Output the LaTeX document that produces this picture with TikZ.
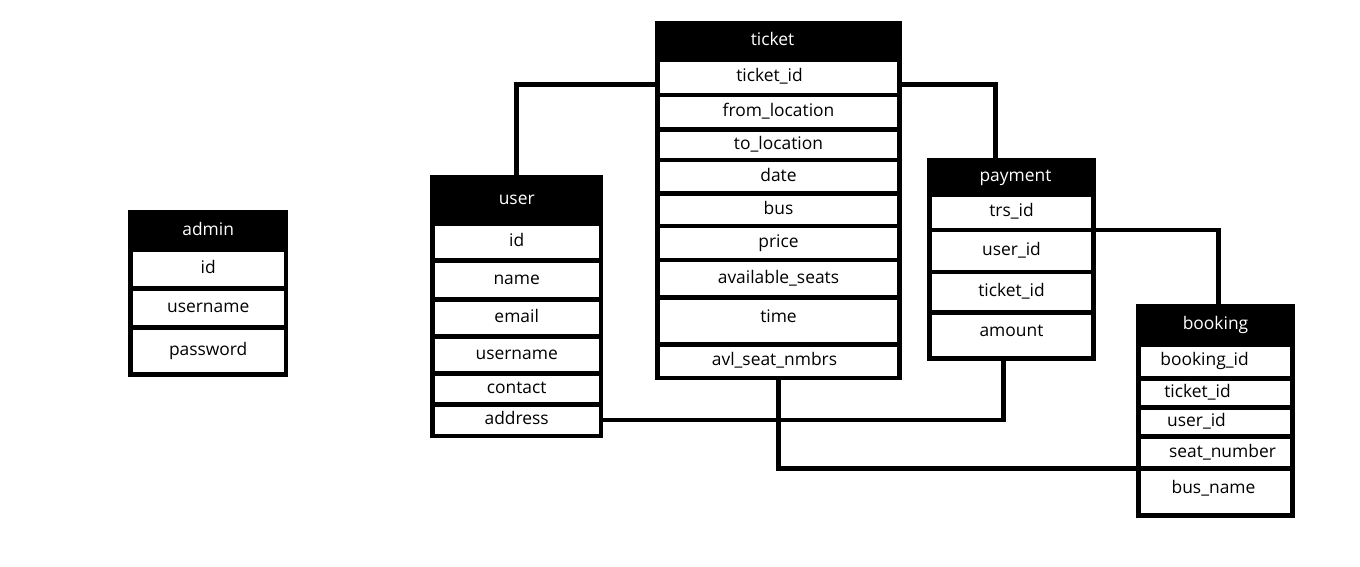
\documentclass[tikz,border=0pt]{standalone}
\usepackage{fontspec}
\setmainfont{Open Sans}
\usetikzlibrary{positioning}

% moves a cell text sideways without changing the cell
\newcommand{\nudge}[2]{\kern#1\makebox[0pt]{#2}\kern-#1}

\begin{document}
\begin{tikzpicture}[
    x=1pt, y=-1pt,
    node distance=0pt,
    font=\fontsize{17.4}{20}\selectfont,
    cell/.style={
        rectangle,
        draw=black,
        line width=4.6pt,
        outer sep=0pt,
        inner sep=0pt,
        minimum width=#1,
        text height=12pt,
        text depth=3pt
    },
    head/.style={cell=#1, fill=black, text=white},
    field/.style={cell=#1, fill=white},
    raised/.style={text depth=9pt},
    link/.style={draw=black, line width=4.6pt}
]

\path[use as bounding box, fill=white] (0,0) rectangle (1360,567);

% admin table
\node[head=155.7pt, minimum height=37.1pt, anchor=north] (admin) at (208.2,212.3) {admin};
\node[field=155.7pt, minimum height=38.9pt, below=of admin] (a1) {id};
\node[field=155.7pt, minimum height=39.2pt, below=of a1] (a2) {username};
\node[field=155.7pt, minimum height=46.9pt, below=of a2] (a3) {password};

% user table
\node[head=168.7pt, minimum height=46.1pt, anchor=north] (user) at (516.7,177.3) {user};
\node[field=168.7pt, minimum height=36.8pt, below=of user] (u1) {id};
\node[field=168.7pt, minimum height=39pt, below=of u1] (u2) {name};
\node[field=168.7pt, minimum height=37pt, below=of u2] (u3) {email};
\node[field=168.7pt, minimum height=37pt, below=of u3] (u4) {username};
\node[field=168.7pt, minimum height=31pt, below=of u4] (u5) {contact};
\node[field=168.7pt, minimum height=31.6pt, below=of u5] (u6) {address};

% ticket table
\node[head=242.4pt, minimum height=36.1pt, anchor=north] (ticket) at (778.5,23.3) {\nudge{-6pt}{ticket}};
\node[field=242.4pt, minimum height=35.8pt, below=of ticket] (t1) {\nudge{-9pt}{ticket\_id}};
\node[field=242.4pt, minimum height=34.2pt, below=of t1] (t2) {from\_location};
\node[field=242.4pt, minimum height=30.6pt, below=of t2] (t3) {to\_location};
\node[field=242.4pt, minimum height=33.5pt, below=of t3] (t4) {date};
\node[field=242.4pt, minimum height=32.3pt, below=of t4] (t5) {bus};
\node[field=242.4pt, minimum height=34.2pt, below=of t5] (t6) {price};
\node[field=242.4pt, minimum height=37.5pt, below=of t6] (t7) {available\_seats};
\node[field=242.4pt, minimum height=46.7pt, raised, below=of t7] (t8) {time};
\node[field=242.4pt, minimum height=33.7pt, below=of t8] (t9) {\nudge{-4pt}{avl\_seat\_nmbrs}};

% payment table
\node[head=163.8pt, minimum height=34.1pt, anchor=north] (payment) at (1011.5,160.3) {\nudge{4pt}{payment}};
\node[field=163.8pt, minimum height=35.6pt, below=of payment] (p1) {trs\_id};
\node[field=163.8pt, minimum height=41.8pt, below=of p1] (p2) {user\_id};
\node[field=163.8pt, minimum height=40.7pt, below=of p2] (p3) {ticket\_id};
\node[field=163.8pt, minimum height=45.7pt, raised, below=of p3] (p4) {amount};

% booking table
\node[head=154.4pt, minimum height=38.1pt, anchor=north] (booking) at (1215.5,306.3) {booking};
\node[field=154.4pt, minimum height=34pt, below=of booking] (b1) {\nudge{-11pt}{booking\_id}};
\node[field=154.4pt, minimum height=29.1pt, below=of b1] (b2) {\nudge{-18pt}{ticket\_id}};
\node[field=154.4pt, minimum height=29pt, below=of b2] (b3) {\nudge{-19pt}{user\_id}};
\node[field=154.4pt, minimum height=32pt, below=of b3] (b4) {\nudge{7pt}{seat\_number}};
\node[field=154.4pt, minimum height=47pt, raised, below=of b4] (b5) {\nudge{-2pt}{bus\_name}};

% relations
\draw[link] (user.north) |- ([yshift=-7pt]t1.west);
\draw[link] ([yshift=-7pt]t1.east) -| ([xshift=-16pt]payment.north);
\draw[link] (p1.south east) -| ([xshift=3pt]booking.north);
\draw[link] (u6.east) -| ([xshift=-8pt]p4.south);
\draw[link] (t9.south) |- (b4.south west);

\end{tikzpicture}
\end{document}
